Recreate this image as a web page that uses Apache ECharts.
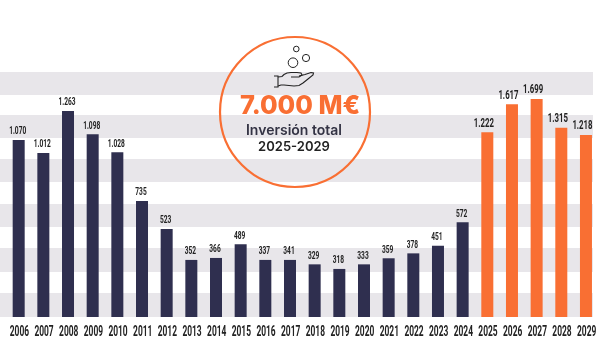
<!DOCTYPE html>
<html><head><meta charset="utf-8">
<style>html,body{margin:0;padding:0;background:#fff}#c{width:600px;height:351px}</style>
<script src="https://cdn.jsdelivr.net/npm/echarts@6/dist/echarts.min.js"></script>
</head><body><div id="c"></div>
<script>
// Years
const years = ['2006','2007','2008','2009','2010','2011','2012','2013','2014','2015','2016','2017','2018','2019','2020','2021','2022','2023','2024','2025','2026','2027','2028','2029'];
// Values as printed over each bar in the reference
const printedValues = ['1.070','1.012','1.263','1.098','1.028','735','523','352','366','489','337','341','329','318','333','359','378','451','572','1.222','1.617','1.699','1.315','1.218'];
// Bar heights as actually drawn in the reference (it is not to scale with the printed values,
// especially 2025-2029) in M EUR on the 2006-2024 scale
const drawnHeights = [1079,1000,1256,1114,1004,707,537,348,360,443,348,348,321,293,321,358,388,435,577,1126,1297,1329,1154,1110];
const firstForecastIndex = 19;

const NAVY='#2f2f4f', ORANGE='#f96f33', BAND='#e8e6ea', INK='#222222';
const bandTops=[72,115,159,204,248,293], bandHeights=[23,23,23,23,24,24];
const SQUEEZE=0.6; // the reference uses a very condensed face, so Roboto is narrowed

const iconLines=[
 [[274,76],[278,76],[278,87],[274,87]],
 [[278,77],[282,76.5],[284,74.5],[287,73],[291,72.5],[297,72.5],[301,73],[302,75],[299,77],[291,77]],
 [[299,76],[305,74.5],[311,72.5],[313.5,73],[313,75],[308,79],[303,83],[299,85.5],[294,86],[284,85],[281,85],[278,86]]
];
const graphics = bandTops.map((t,i)=>({type:'rect',z:-10,silent:true,shape:{x:0,y:t,width:593,height:bandHeights[i]},style:{fill:BAND}}));
graphics.push(
 {type:'circle',z:10,shape:{cx:295,cy:112,r:75},style:{fill:'transparent',stroke:ORANGE,lineWidth:2.2}},
 {type:'circle',z:10,shape:{cx:296.3,cy:49,r:2.8},style:{fill:'transparent',stroke:INK,lineWidth:1}},
 {type:'circle',z:10,shape:{cx:306,cy:58,r:3.6},style:{fill:'transparent',stroke:INK,lineWidth:1}},
 {type:'circle',z:10,shape:{cx:293,cy:62.7,r:4.8},style:{fill:'transparent',stroke:INK,lineWidth:1}},
 ...iconLines.map(pts=>({type:'polyline',z:10,shape:{points:pts},style:{fill:null,stroke:INK,lineWidth:1.1}})),
 {type:'text',z:10,x:300,y:106,style:{text:'7.000 M€',fill:ORANGE,font:'800 25.5px Inter',textAlign:'center',textVerticalAlign:'middle'}},
 {type:'text',z:10,x:294,y:131,style:{text:'Inversión total',fill:'#333344',font:'600 14px Inter',textAlign:'center',textVerticalAlign:'middle'}},
 {type:'text',z:10,x:294,y:147,style:{text:'2025-2029',fill:'#222222',font:'600 13px Inter',textAlign:'center',textVerticalAlign:'middle'}}
);

function squeezedText(text,x,y,size){
  return {type:'text',x:x,y:y,scaleX:SQUEEZE,silent:true,
    style:{text:text,fill:INK,font:'bold '+size+'px Roboto',textAlign:'center',textVerticalAlign:'middle'}};
}

const chart = echarts.init(document.getElementById('c'));
chart.setOption({
  animation:false,
  backgroundColor:'#fff',
  grid:{left:6.35,right:1.7,top:17,bottom:34,containLabel:false},
  xAxis:{type:'category',data:years,axisLine:{show:false},axisTick:{show:false},axisLabel:{show:false}},
  yAxis:{type:'value',min:0,max:1829,show:false,splitLine:{show:false}},
  series:[{
    type:'bar',barWidth:12,
    data:drawnHeights.map((v,i)=>({value:v,itemStyle:{color:i>=firstForecastIndex?ORANGE:NAVY}}))
  },{
    // value labels above the bars
    type:'custom',clip:false,silent:true,
    data:drawnHeights.map((v,i)=>[i,v]),
    renderItem:(params,api)=>{
      const i=api.value(0), p=api.coord([i,api.value(1)]), f=i>=firstForecastIndex;
      return squeezedText(printedValues[i],p[0]+(f?-3.5:-1),p[1]-(f?9:8.5),f?13:11);
    }
  },{
    // year labels below the bars
    type:'custom',clip:false,silent:true,
    data:years.map((y,i)=>[i,0]),
    renderItem:(params,api)=>{
      const i=api.value(0), p=api.coord([i,0]);
      return squeezedText(years[i],p[0]+0.7,p[1]+15,14);
    }
  }],
  graphic:graphics
});
</script></body></html>
